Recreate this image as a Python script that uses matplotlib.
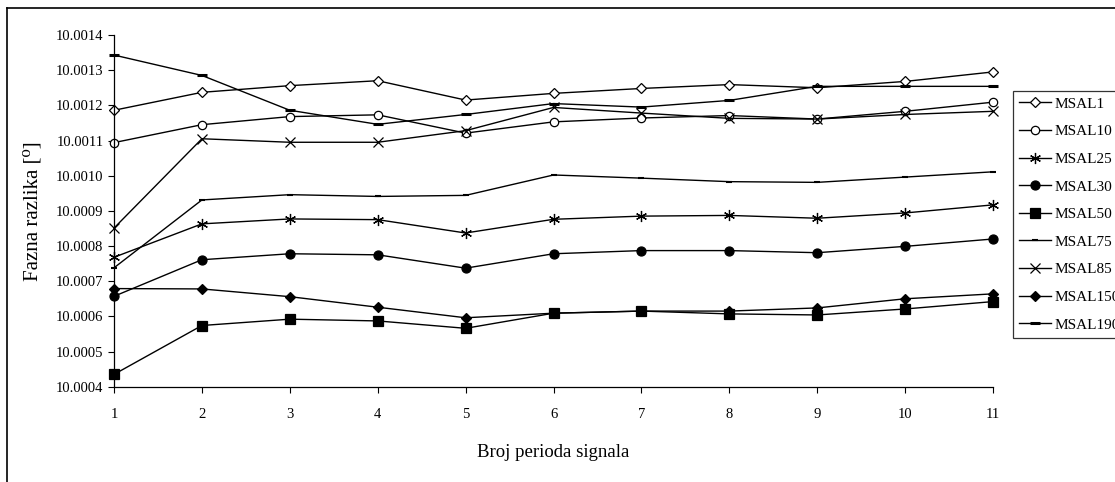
import matplotlib
matplotlib.use("Agg")
import matplotlib.pyplot as plt
from matplotlib.lines import Line2D
from matplotlib.ticker import FuncFormatter, MultipleLocator

plt.rcParams['font.family'] = ['Liberation Serif', 'DejaVu Serif']

periods = list(range(1, 12))

msal1 = [10.001186, 10.001237, 10.001256, 10.001270, 10.001215, 10.001234,
         10.001248, 10.001259, 10.001250, 10.001268, 10.001295]
msal10 = [10.001094, 10.001145, 10.001168, 10.001173, 10.001121, 10.001153,
          10.001164, 10.001171, 10.001161, 10.001183, 10.001209]
msal25 = [10.000768, 10.000863, 10.000877, 10.000875, 10.000837, 10.000876,
          10.000885, 10.000887, 10.000879, 10.000894, 10.000917]
msal30 = [10.000657, 10.000761, 10.000778, 10.000775, 10.000737, 10.000778,
          10.000787, 10.000787, 10.000781, 10.000799, 10.000820]
msal50 = [10.000435, 10.000574, 10.000592, 10.000587, 10.000566, 10.000609,
          10.000615, 10.000607, 10.000604, 10.000621, 10.000642]
msal75 = [10.000738, 10.000931, 10.000946, 10.000941, 10.000944, 10.001002,
          10.000993, 10.000983, 10.000981, 10.000996, 10.001011]
msal85 = [10.000851, 10.001105, 10.001095, 10.001095, 10.001128, 10.001194,
          10.001178, 10.001163, 10.001161, 10.001174, 10.001183]
msal150 = [10.000679, 10.000678, 10.000656, 10.000626, 10.000596, 10.000609,
           10.000615, 10.000615, 10.000624, 10.000650, 10.000664]
msal190 = [10.001343, 10.001285, 10.001186, 10.001146, 10.001174, 10.001205,
           10.001195, 10.001214, 10.001254, 10.001254, 10.001254]

fig = plt.figure(figsize=(11.15, 4.82), dpi=100)
ax = fig.add_axes([114 / 1115, (482 - 386.7) / 482, 879 / 1115, 351.7 / 482])

# (label, values, marker, size, facecolor, mew)
series = [
    ("MSAL1", msal1, "D", 5.5, "white", 0.9),
    ("MSAL10", msal10, "o", 6, "white", 0.9),
    ("MSAL25", msal25, (6, 2, 0), 8, "black", 0.9),
    ("MSAL30", msal30, "o", 6.5, "black", 0.9),
    ("MSAL50", msal50, "s", 7.5, "black", 0.9),
    ("MSAL75", msal75, "_", 4, "black", 1.5),
    ("MSAL85", msal85, "x", 7, "black", 0.9),
    ("MSAL150", msal150, "D", 5, "black", 0.9),
    ("MSAL190", msal190, "_", 7, "black", 2.2),
]

for label, vals, mk, ms, fc, mew in series:
    ax.plot(periods, vals, color="black", lw=1.0, marker=mk, ms=ms,
            mfc=fc, mec="black", mew=mew, label=label, clip_on=False)

ax.set_xlim(1, 11)
ax.set_ylim(10.0004, 10.0014)
ax.set_xticks(periods)
ax.yaxis.set_major_locator(MultipleLocator(0.0001))
ax.yaxis.set_major_formatter(FuncFormatter(lambda v, p: "%.4f" % v))
ax.tick_params(axis="both", direction="out", length=4, width=0.8,
               labelsize=10.5, colors="black")
ax.tick_params(axis="x", pad=11)
for s in ("top", "right"):
    ax.spines[s].set_visible(False)
for s in ("left", "bottom"):
    ax.spines[s].set_linewidth(0.9)

ax.set_ylabel("Fazna razlika [\u2070]", fontsize=15)
ax.yaxis.set_label_coords(-0.081, 0.5)
ax.set_xlabel("Broj perioda signala", fontsize=13.5)
ax.xaxis.set_label_coords(0.5, -0.186)
ax.xaxis.label.set_va("center")

# legend box runs past the right edge, as in the original
leg = fig.legend(loc="upper left", bbox_to_anchor=(1013 / 1115, (482 - 91) / 482),
                 fontsize=11, frameon=True, fancybox=False, edgecolor="black",
                 borderpad=0.4, labelspacing=0.91, handlelength=2.1,
                 handletextpad=0.2, borderaxespad=0)
leg.get_frame().set_linewidth(0.9)

# outer chart border (only left and top sides visible in the crop)
fig.add_artist(Line2D([7 / 1115, 7 / 1115], [0, 1 - 8 / 482], color="black", lw=1.2))
fig.add_artist(Line2D([7 / 1115, 1], [1 - 8 / 482, 1 - 8 / 482], color="black", lw=1.2))

fig.savefig("out.png", dpi=100)
